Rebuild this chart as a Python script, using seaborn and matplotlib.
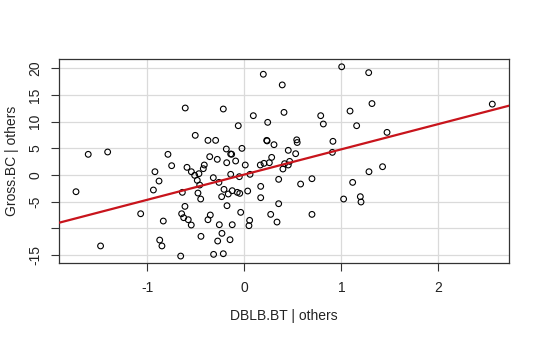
import numpy as np
import pandas as pd
import matplotlib
matplotlib.use("Agg")
import matplotlib.pyplot as plt
import seaborn as sns

# Added-variable residuals: DBLB.BT | others (x) vs Gross.BC | others (y)
dblb_bt = [
    -1.733, -1.607, -1.407, -1.480, -1.067, -0.920, -0.878, -0.936, -0.786, -0.748,
    -0.834, -0.871, -0.848, -0.608, -0.655, -0.638, -0.611, -0.645, -0.624, -0.577,
    -0.546, -0.505, -0.590, -0.545, -0.511, -0.467, -0.484, -0.459, -0.477, -0.449,
    -0.374, -0.295, -0.216, -0.062, 0.093, 0.196, 0.241, 0.231, 0.235, 0.391,
    0.409, 0.540, 0.545, 0.306, 0.453, 0.529, 0.787, 0.814, 0.913, 0.907,
    1.003, 1.089, 1.157, 1.116, 1.023, 1.195, 1.202, 0.697, 0.580, 0.697,
    0.354, 0.354, 0.272, 0.337, 0.169, 0.169, 0.035, 0.055, 0.048, -0.037,
    0.165, 0.203, 0.258, 0.282, 0.415, 0.398, 0.467, 0.453, 0.010, -0.024,
    0.059, -0.051, -0.140, -0.124, -0.072, -0.047, -0.165, -0.209, -0.233, -0.178,
    -0.261, -0.319, -0.278, -0.356, -0.185, -0.140, -0.130, -0.089, -0.181, -0.412,
    -0.422, -0.350, -0.374, -0.257, -0.124, -0.230, -0.274, -0.147, -0.446, -0.316,
    -0.216, 1.281, 1.315, 1.470, 2.554, 1.424, 1.284,
]
gross_bc = [
    -3.13, 3.88, 4.32, -13.30, -7.26, 0.62, -1.13, -2.81, 3.88, 1.75,
    -8.63, -12.20, -13.30, 12.57, -15.20, -3.25, -5.88, -7.26, -8.00, -8.38,
    -9.38, 7.44, 1.44, 0.62, -0.06, 0.25, -1.00, -1.88, -3.38, -4.50,
    6.50, 6.50, 12.38, 9.25, 11.13, 18.90, 9.88, 6.50, 6.40, 16.90,
    11.75, 6.60, 6.10, 5.69, 4.63, 4.00, 11.13, 9.57, 6.32, 4.25,
    20.30, 12.00, 9.25, -1.38, -4.50, -4.06, -5.06, -0.69, -1.69, -7.38,
    -0.81, -5.38, -7.38, -8.82, -2.13, -4.25, -3.00, -8.50, -9.50, -7.00,
    1.88, 2.19, 2.31, 3.31, 2.13, 1.13, 2.56, 1.88, 1.88, 5.00,
    0.13, -0.31, 0.13, -2.94, -3.25, -3.44, -3.56, -2.69, -4.06, -5.75,
    -1.38, -0.50, 2.94, 3.44, 4.88, 3.94, 3.90, 2.63, 2.31, 1.88,
    1.19, -7.50, -8.38, -9.32, -9.32, -10.94, -12.38, -12.13, -11.50, -14.88,
    -14.76, 19.20, 13.40, 8.00, 13.30, 1.56, 0.62,
]

x_ticks = [-1, 0, 1, 2]
x_tick_labels = ["-1", "0", "1", "2"]
y_ticks = [-15, -10, -5, 0, 5, 10, 15, 20]
y_tick_labels = ["-15", "", "-5", "0", "5", "10", "15", "20"]

df = pd.DataFrame({"DBLB.BT | others": dblb_bt, "Gross.BC | others": gross_bc})

sns.set_theme(style="white")
plt.rcParams["font.family"] = ["Liberation Sans", "DejaVu Sans"]

fig = plt.figure(figsize=(5.4, 3.38), dpi=100)
ax = fig.add_axes([59 / 540, 75 / 338, 450 / 540, 204 / 338])

ax.set_xlim(-1.908, 2.726)
ax.set_ylim(-16.5, 21.76)

# light reference grid at the tick positions
for xv in x_ticks:
    ax.axvline(xv, color="#dadada", lw=0.9, zorder=0)
for yv in y_ticks:
    ax.axhline(yv, color="#dadada", lw=0.9, zorder=0)

sns.scatterplot(data=df, x="DBLB.BT | others", y="Gross.BC | others", ax=ax,
                marker="o", s=17, facecolor="none", edgecolor="black",
                linewidth=0.8, zorder=3)

# least-squares fit drawn across the full panel
sns.regplot(data=df, x="DBLB.BT | others", y="Gross.BC | others", ax=ax,
            scatter=False, ci=None, truncate=False,
            line_kws={"color": "#c8141c", "lw": 1.6, "zorder": 4})
ax.set_xlim(-1.908, 2.726)
ax.set_ylim(-16.5, 21.76)

ax.set_xticks(x_ticks)
ax.set_xticklabels(x_tick_labels)
ax.set_yticks(y_ticks)
ax.set_yticklabels(y_tick_labels, rotation=90, va="center")

ax.tick_params(axis="both", direction="out", length=6, width=0.8,
               color="#333333", labelsize=10, labelcolor="#222222",
               bottom=True, left=True)
ax.tick_params(axis="x", pad=7)
ax.tick_params(axis="y", pad=6)

for sp in ax.spines.values():
    sp.set_color("#333333")
    sp.set_linewidth(0.9)

ax.set_xlabel("DBLB.BT | others", fontsize=10, color="#222222", labelpad=10)
ax.set_ylabel("Gross.BC | others", fontsize=10, color="#222222", labelpad=7)

fig.savefig("out.png", dpi=100)
